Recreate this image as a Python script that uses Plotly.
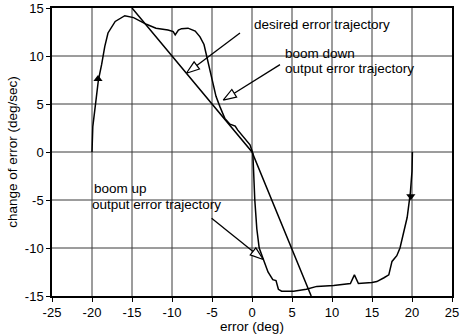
import numpy as np
import plotly.graph_objects as go

# ---- data ----
x_ticks = [-25, -20, -15, -10, -5, 0, 5, 10, 15, 20, 25]
y_ticks = [-15, -10, -5, 0, 5, 10, 15]

desired_x = [-15, 0, 7.4]
desired_y = [15, 0, -15]

boom_down_x = [-20.0, -19.9, -19.5, -19.2, -18.8, -18.4, -18.0, -17.1, -15.9, -14.8, -13.2,
               -12.0, -10.5, -9.85, -9.6, -9.2, -8.8, -8.0, -7.1, -6.5, -6.0, -5.7, -5.3,
               -4.9, -4.5, -4.0, -3.4, -2.75, -2.1, -1.8, -1.1, -0.25, 0.1]
boom_down_y = [0.0, 2.65, 5.4, 7.5, 9.1, 11.0, 12.4, 13.6, 14.2, 14.0, 13.3,
               12.9, 12.7, 12.55, 12.2, 12.7, 12.85, 12.9, 12.6, 12.0, 11.2, 10.1, 8.9,
               7.2, 5.8, 4.7, 3.5, 2.9, 2.7, 2.3, 1.6, 0.75, -0.1]

boom_up_x = [20.05, 20.0, 19.8, 19.4, 18.5, 18.1, 17.5, 17.1, 16.5, 15.6, 15.0, 13.3,
             12.8, 12.3, 10.2, 8.1, 6.8, 5.2, 3.7, 3.3, 3.0, 2.6, 2.0, 1.4, 0.9, 0.6,
             0.35, 0.2, 0.1]
boom_up_y = [0.0, -2.0, -4.2, -6.8, -10.0, -10.8, -11.4, -12.8, -13.1, -13.5, -13.6, -13.7,
             -12.8, -13.7, -13.9, -14.0, -14.3, -14.5, -14.5, -14.3, -13.4, -13.3, -12.5,
             -11.2, -10.0, -8.0, -5.0, -2.0, -0.1]

# direction markers on the curves
dir_x = [-19.25, 19.85]
dir_y = [7.6, -4.6]
dir_sym = ["triangle-up", "triangle-down"]

# labels
label_text = ["desired error trajectory", "boom down", "output error trajectory",
              "boom up", "output error trajectory"]
label_x = [0.0, 3.9, 3.9, -20.0, -20.2]
label_y = [13.3, 10.3, 8.75, -3.75, -5.5]

# pointer arrows (tail -> tip)
arrow_tail_x = [-1.5, 3.5, -5.05]
arrow_tail_y = [12.4, 9.1, -6.9]
arrow_tip_x = [-8.2, -3.6, 1.4]
arrow_tip_y = [8.2, 5.4, -11.2]

fig = go.Figure()

# grid lines at the tick positions
grid_style = dict(color="#3a3a3a", width=1)
for v in x_ticks[1:-1]:
    fig.add_shape(type="line", xref="x", yref="paper", x0=v, x1=v, y0=0, y1=1,
                  line=grid_style, layer="below")
for v in y_ticks[1:-1]:
    fig.add_shape(type="line", xref="paper", yref="y", x0=0, x1=1, y0=v, y1=v,
                  line=grid_style, layer="below")

line_style = dict(color="black", width=1.5)
fig.add_trace(go.Scatter(x=desired_x, y=desired_y, mode="lines", line=line_style,
                         hoverinfo="skip"))
fig.add_trace(go.Scatter(x=boom_down_x, y=boom_down_y, mode="lines", line=line_style,
                         hoverinfo="skip"))
fig.add_trace(go.Scatter(x=boom_up_x, y=boom_up_y, mode="lines", line=line_style,
                         hoverinfo="skip"))
fig.add_trace(go.Scatter(x=dir_x, y=dir_y, mode="markers",
                         marker=dict(symbol=dir_sym, size=8, color="black"),
                         hoverinfo="skip"))

# hollow-headed pointer arrows
sx, sy = 8.0, 9.59  # px per data unit
L, W = 13.0, 4.5
for tx, ty, hx, hy in zip(arrow_tail_x, arrow_tail_y, arrow_tip_x, arrow_tip_y):
    t = np.array([tx * sx, ty * sy])
    h = np.array([hx * sx, hy * sy])
    u = (h - t) / np.linalg.norm(h - t)
    p = np.array([-u[1], u[0]])
    b = h - L * u
    c1 = b + W * p
    c2 = b - W * p
    fig.add_trace(go.Scatter(x=[t[0] / sx, b[0] / sx], y=[t[1] / sy, b[1] / sy],
                             mode="lines", line=dict(color="black", width=1.3),
                             hoverinfo="skip"))
    fig.add_trace(go.Scatter(x=[h[0] / sx, c1[0] / sx, c2[0] / sx, h[0] / sx],
                             y=[h[1] / sy, c1[1] / sy, c2[1] / sy, h[1] / sy],
                             mode="lines", fill="toself", fillcolor="white",
                             line=dict(color="black", width=1.2), hoverinfo="skip"))

for txt, lx, ly in zip(label_text, label_x, label_y):
    fig.add_annotation(x=lx, y=ly, text=txt, showarrow=False, xanchor="left",
                       yanchor="middle", font=dict(size=13.5, color="black"))

axis_common = dict(showline=True, linecolor="black", linewidth=1.5, mirror=True,
                   showgrid=False, zeroline=False, automargin=False,
                   ticks="outside", ticklen=4, tickcolor="black",
                   tickfont=dict(size=13, color="black"))

fig.update_layout(
    template="none",
    width=460, height=334,
    margin=dict(l=52, r=8, t=8, b=38),
    paper_bgcolor="white", plot_bgcolor="white",
    showlegend=False,
    font=dict(family="Liberation Sans, Arial, sans-serif", color="black"),
    xaxis=dict(range=[-25, 25], tickmode="array", tickvals=x_ticks,
               ticktext=[str(v) for v in x_ticks],
               title=dict(text="error (deg)", font=dict(size=13.5), standoff=2),
               **axis_common),
    yaxis=dict(range=[-15, 15], tickmode="array", tickvals=y_ticks,
               ticktext=[str(v) for v in y_ticks],
               title=dict(text="change of error (deg/sec)", font=dict(size=13.5), standoff=4),
               **axis_common),
)

fig.write_html("out.html")
